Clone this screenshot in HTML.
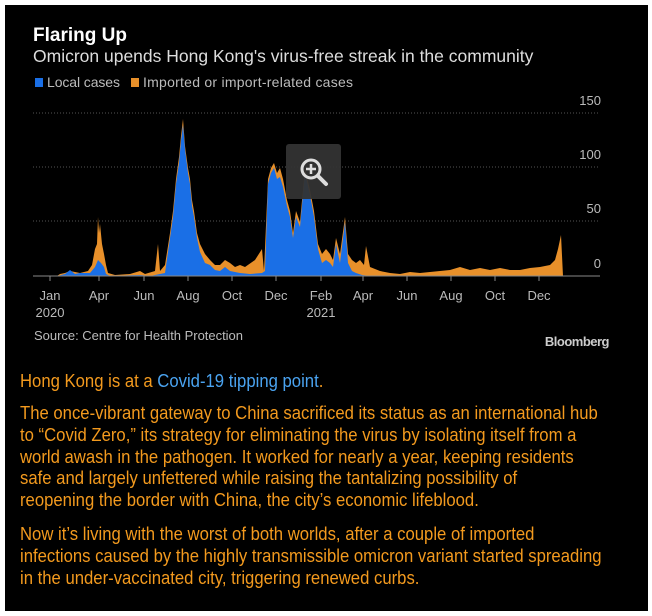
<!DOCTYPE html>
<html><head><meta charset="utf-8"><style>
html,body{margin:0;padding:0;background:#fff;}
#box{position:absolute;left:5px;top:5px;width:643px;height:606px;background:#000;overflow:hidden;}
.t{position:absolute;white-space:nowrap;font-family:"Liberation Sans",sans-serif;transform-origin:0 0;transform:scaleX(0.927);}
</style></head><body>
<div id="box"></div>
<svg width="652" height="616" style="position:absolute;left:0;top:0" xmlns="http://www.w3.org/2000/svg" font-family="Liberation Sans, sans-serif">
<text x="33" y="41" fill="#fff" font-size="19" font-weight="bold">Flaring Up</text>
<text x="33" y="62" fill="#ddd" font-size="17.5">Omicron upends Hong Kong's virus-free streak in the community</text>
<rect x="35" y="78" width="8" height="9" fill="#1a6fe6"/>
<text x="47" y="87" fill="#bbb" font-size="14" textLength="73">Local cases</text>
<rect x="131" y="78" width="8" height="9" fill="#e8902a"/>
<text x="143" y="87" fill="#bbb" font-size="14" textLength="210">Imported or import-related cases</text>
<g stroke="#555" stroke-dasharray="1,2" stroke-width="1">
<line x1="33" y1="113" x2="600" y2="113"/><line x1="33" y1="167" x2="600" y2="167"/><line x1="33" y1="221" x2="600" y2="221"/>
</g>
<g fill="#bbb" font-size="13" text-anchor="end">
<text x="601" y="105">150</text><text x="601" y="159">100</text><text x="601" y="213">50</text><text x="601" y="268">0</text>
</g>
<polygon fill="#e8902a" points="57,276 60,274 65,273 70,271 80,273 88,271 92,265 95,249 97,244 98,217 99,233 100,224 102,244 104,254 106,265 108,273 115,275 130,274 140,271 145,274 155,271 158,244 160,271 165,265 170,233 173,211 176,179 179,157 181,136 183,119 185,146 188,168 190,179 192,200 194,211 197,233 200,244 205,254 210,260 215,265 220,265 225,260 230,263 235,267 240,265 245,267 255,260 262,249 264,271 268,179 271,168 274,163 277,173 280,168 283,179 287,200 290,211 293,233 296,211 300,222 305,168 310,190 314,211 318,244 322,254 326,249 330,254 333,260 336,238 340,254 345,217 348,254 352,260 356,263 360,260 364,265 366,246 370,267 380,271 390,273 400,274 410,272 420,273 430,272 440,271 450,270 460,267 470,270 480,268 490,270 500,268 510,270 520,270 530,268 540,267 550,265 555,260 558,249 561,235 563,276"/>
<polygon fill="#1a6fe6" points="57,276 65,274 70,270 75,274 80,273 90,273 95,267 98,260 101,263 104,267 106,274 110,276 140,275 150,276 165,273 170,238 173,217 176,184 179,163 181,141 183,125 185,149 188,173 190,184 192,206 194,217 197,238 200,252 205,263 210,265 215,270 220,271 225,267 230,271 240,273 250,274 262,273 265,271 268,184 271,173 274,168 277,179 280,177 283,187 287,206 290,217 293,238 296,217 300,227 305,173 310,195 314,217 318,249 322,263 326,260 330,263 333,267 336,244 340,263 345,222 348,263 352,271 356,273 362,275 370,276"/>
<line x1="33" y1="276" x2="600" y2="276" stroke="#888" stroke-width="1"/>
<g stroke="#888"><line x1="50" y1="276" x2="50" y2="281"/><line x1="99" y1="276" x2="99" y2="281"/><line x1="144" y1="276" x2="144" y2="281"/><line x1="188" y1="276" x2="188" y2="281"/><line x1="232" y1="276" x2="232" y2="281"/><line x1="276" y1="276" x2="276" y2="281"/><line x1="321" y1="276" x2="321" y2="281"/><line x1="363" y1="276" x2="363" y2="281"/><line x1="407" y1="276" x2="407" y2="281"/><line x1="451" y1="276" x2="451" y2="281"/><line x1="495" y1="276" x2="495" y2="281"/><line x1="539" y1="276" x2="539" y2="281"/></g>
<g fill="#bbb" font-size="13" text-anchor="middle">
<text x="50" y="300">Jan</text><text x="99" y="300">Apr</text><text x="144" y="300">Jun</text><text x="188" y="300">Aug</text><text x="232" y="300">Oct</text><text x="276" y="300">Dec</text><text x="321" y="300">Feb</text><text x="363" y="300">Apr</text><text x="407" y="300">Jun</text><text x="451" y="300">Aug</text><text x="495" y="300">Oct</text><text x="539" y="300">Dec</text>
<text x="50" y="317">2020</text><text x="321" y="317">2021</text>
</g>
<text x="34" y="340" fill="#bbb" font-size="13" textLength="209">Source: Centre for Health Protection</text>
<text x="609" y="346" fill="#ccc" font-size="13" font-weight="bold" text-anchor="end" letter-spacing="-0.5">Bloomberg</text>
<rect x="286" y="144" width="55" height="55" rx="3" fill="#333" opacity="0.95"/>
<circle cx="311" cy="169" r="9" fill="none" stroke="#ddd" stroke-width="3"/>
<line x1="318" y1="176" x2="326" y2="184" stroke="#ddd" stroke-width="4" stroke-linecap="round"/>
<line x1="306" y1="169" x2="316" y2="169" stroke="#ddd" stroke-width="2.5"/><line x1="311" y1="164" x2="311" y2="174" stroke="#ddd" stroke-width="2.5"/>
</svg>
<div class="t" style="left:20px;top:371px;font-size:18px;color:#f39a1e;">Hong Kong is at a <span style="color:#4aa3f0">Covid-19 tipping point</span>.</div>
<div class="t" style="left:20px;top:403px;font-size:18px;line-height:21.8px;color:#f39a1e;">The once-vibrant gateway to China sacrificed its status as an international hub<br>to “Covid Zero,” its strategy for eliminating the virus by isolating itself from a<br>world awash in the pathogen. It worked for nearly a year, keeping residents<br>safe and largely unfettered while raising the tantalizing possibility of<br>reopening the border with China, the city’s economic lifeblood.</div>
<div class="t" style="left:20px;top:524px;font-size:18px;line-height:21.8px;color:#f39a1e;">Now it’s living with the worst of both worlds, after a couple of imported<br>infections caused by the highly transmissible omicron variant started spreading<br>in the under-vaccinated city, triggering renewed curbs.</div>
</body></html>
